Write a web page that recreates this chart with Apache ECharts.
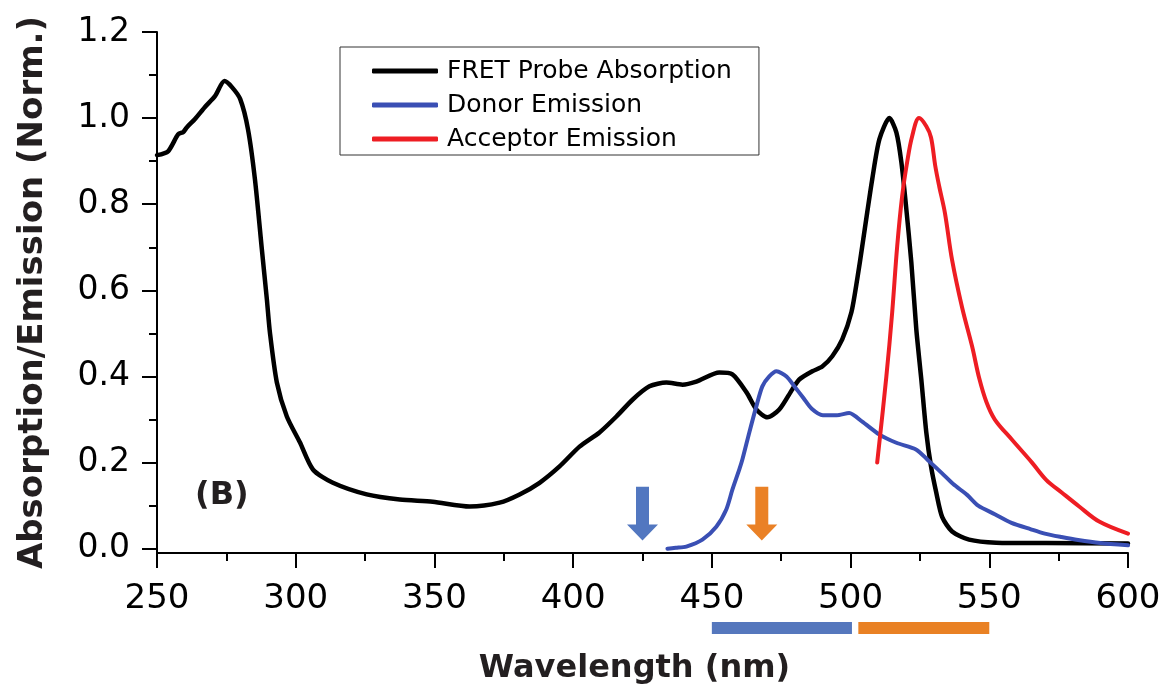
<!DOCTYPE html>
<html>
<head>
<meta charset="utf-8">
<script src="https://cdn.jsdelivr.net/npm/echarts@6.0.0/dist/echarts.min.js"></script>
<style>
  html, body { margin: 0; padding: 0; background: #fff; }
  #chart { width: 1164px; height: 696px; }
</style>
</head>
<body>
<div id="chart"></div>
<script>
// FRET probe absorption spectrum (normalised)
const absWavelength = [250, 254, 257.6, 259.5, 260.8, 263.7, 267.3, 270.9, 274.3, 277, 280, 282.8, 285.3, 287.8, 289.6, 290.7, 293.2, 296.8, 301.5, 306.2, 313.4, 325.6, 337.5, 349.4, 362.7, 373.5, 380.7, 387.9, 395.1, 402.3, 409.5, 415.6, 421.4, 427.5, 433.6, 439.4, 444.4, 452.7, 457.4, 462.5, 466.1, 470, 474.3, 479, 481.5, 486.2, 489.8, 493.4, 497, 500.3, 502.4, 504.2, 506, 507.8, 510.4, 514, 516.5, 518.3, 520, 521.9, 523.7, 525.5, 527.3, 529, 530.9, 533, 536.6, 542.7, 552.5, 570.5, 600];
const absValues = [0.914, 0.923, 0.962, 0.968, 0.979, 0.998, 1.026, 1.051, 1.086, 1.072, 1.044, 0.974, 0.858, 0.695, 0.579, 0.502, 0.386, 0.307, 0.247, 0.184, 0.153, 0.126, 0.114, 0.109, 0.098, 0.107, 0.126, 0.153, 0.191, 0.237, 0.270, 0.307, 0.346, 0.377, 0.386, 0.381, 0.388, 0.409, 0.405, 0.363, 0.323, 0.305, 0.323, 0.370, 0.393, 0.412, 0.423, 0.447, 0.486, 0.549, 0.626, 0.702, 0.781, 0.858, 0.951, 1.0, 0.967, 0.898, 0.795, 0.665, 0.509, 0.393, 0.27, 0.191, 0.13, 0.074, 0.04, 0.021, 0.014, 0.013, 0.012];

// Donor emission
const donorWavelength = [434, 437, 440.8, 446.6, 451.6, 455.2, 457.4, 459.9, 461, 463.5, 466, 468.2, 470.7, 473.3, 476.9, 480, 483, 486, 490, 495, 499.5, 504.2, 510.4, 516.5, 523.7, 528, 533, 537, 542, 546, 552, 558, 565, 570, 576, 582, 590, 600];
const donorValues = [0.0, 0.002, 0.005, 0.021, 0.051, 0.091, 0.137, 0.184, 0.207, 0.27, 0.33, 0.377, 0.4, 0.412, 0.4, 0.375, 0.35, 0.325, 0.31, 0.31, 0.315, 0.295, 0.265, 0.246, 0.23, 0.205, 0.175, 0.15, 0.125, 0.1, 0.08, 0.06, 0.045, 0.035, 0.027, 0.02, 0.013, 0.008];

// Acceptor emission
const acceptorWavelength = [509.6, 512.9, 515, 516.8, 518.6, 520.4, 522.2, 524.7, 527.3, 529, 530.5, 532, 534, 536.6, 540.2, 543.8, 546.4, 549, 552, 558.2, 565.4, 570.5, 576.2, 582.4, 589.6, 600];
const acceptorValues = [0.2, 0.4, 0.549, 0.702, 0.819, 0.898, 0.958, 1.0, 0.981, 0.955, 0.89, 0.84, 0.78, 0.67, 0.56, 0.47, 0.395, 0.34, 0.3, 0.253, 0.2, 0.16, 0.13, 0.098, 0.063, 0.035];

// Excitation wavelengths (arrows) and detection windows (bars under the axis)
const excitationWavelength = [425, 468];
const bandStart = [450, 502.8];
const bandEnd = [500.5, 550];

// Axis ticks
const yMajorTicks = [0, 0.2, 0.4, 0.6, 0.8, 1.0, 1.2];
const yMinorTicks = [0.1, 0.3, 0.5, 0.7, 0.9, 1.1];

const seriesNames = ['FRET Probe Absorption', 'Donor Emission', 'Acceptor Emission'];
const lineColors = ['#000000', '#3a4fb4', '#ee1d23'];
const lineWidths = [4.5, 4, 4];
const smoothness = [0.25, 0.25, 0.35];
const arrowColors = ['#5277c0', '#ea8126'];
const bandColors = ['#5577bd', '#e98124'];

const FONT = 'DejaVu Sans';
const pairs = (xs, ys) => xs.map((x, i) => [x, ys[i]]);

const lineSeries = [
  pairs(absWavelength, absValues),
  pairs(donorWavelength, donorValues),
  pairs(acceptorWavelength, acceptorValues)
].map((data, i) => ({
  name: seriesNames[i],
  type: 'line',
  data: data,
  smooth: smoothness[i],
  showSymbol: false,
  symbol: 'none',
  color: lineColors[i],
  lineStyle: { width: lineWidths[i], color: lineColors[i], cap: 'round', join: 'round' },
  z: 3
}));

// arrow geometry in data units of the y axis
const ARROW_TOP = 0.144, ARROW_NECK = 0.056, ARROW_TIP = 0.019;
const BAND_LEVEL = -0.184;

const arrowSeries = {
  type: 'custom',
  clip: false,
  silent: true,
  z: 4,
  data: excitationWavelength.map((w, i) => ({ value: [w], itemStyle: { color: arrowColors[i] } })),
  renderItem: function (params, api) {
    const w = api.value(0);
    const tip = api.coord([w, ARROW_TIP]);
    const top = api.coord([w, ARROW_TOP]);
    const neck = api.coord([w, ARROW_NECK]);
    const sw = 6.5, hw = 15.5, x = tip[0];
    return {
      type: 'polygon',
      shape: { points: [
        [x - sw, top[1]], [x + sw, top[1]], [x + sw, neck[1]], [x + hw, neck[1]],
        [x, tip[1]], [x - hw, neck[1]], [x - sw, neck[1]]
      ] },
      style: { fill: api.visual('color') }
    };
  }
};

const bandSeries = {
  type: 'custom',
  clip: false,
  silent: true,
  z: 4,
  data: bandStart.map((s, i) => ({ value: [s, bandEnd[i]], itemStyle: { color: bandColors[i] } })),
  renderItem: function (params, api) {
    const a = api.coord([api.value(0), BAND_LEVEL]);
    const b = api.coord([api.value(1), BAND_LEVEL]);
    return {
      type: 'rect',
      shape: { x: a[0], y: a[1] - 6, width: b[0] - a[0], height: 12 },
      style: { fill: api.visual('color') }
    };
  }
};

const chart = echarts.init(document.getElementById('chart'), null, { renderer: 'canvas' });

chart.setOption({
  animation: false,
  backgroundColor: '#ffffff',
  grid: { left: 157, right: 36, top: 32, bottom: 143, containLabel: false },
  legend: {
    data: seriesNames,
    orient: 'vertical',
    left: 340,
    top: 47,
    icon: 'roundRect',
    itemWidth: 66,
    itemHeight: 5,
    itemGap: 4,
    padding: [9, 27, 1, 32],
    borderColor: '#333',
    borderWidth: 1,
    textStyle: { fontFamily: FONT, fontSize: 25, color: '#000', lineHeight: 30, padding: [0, 0, 0, 4] }
  },
  xAxis: {
    type: 'value',
    min: 250,
    max: 600,
    interval: 50,
    name: 'Wavelength (nm)',
    nameLocation: 'middle',
    nameGap: 100,
    nameTextStyle: { fontFamily: FONT, fontSize: 32, fontWeight: 'bold', color: '#231f20', padding: [0, 16, 0, 0] },
    axisLine: { show: true, onZero: false, lineStyle: { color: '#000', width: 2 } },
    axisTick: { show: true, inside: false, length: 15, lineStyle: { color: '#000', width: 2 } },
    minorTick: { show: true, splitNumber: 2, length: 8, lineStyle: { color: '#000', width: 2 } },
    axisLabel: { fontFamily: FONT, fontSize: 34, color: '#000', margin: 29 },
    splitLine: { show: false }
  },
  yAxis: [
    {
      type: 'value',
      min: -0.01,
      max: 1.2,
      name: 'Absorption/Emission (Norm.)',
      nameLocation: 'middle',
      nameGap: 107,
      nameRotate: 90,
      nameTextStyle: { fontFamily: FONT, fontSize: 34, fontWeight: 'bold', color: '#231f20' },
      axisLine: { show: true, lineStyle: { color: '#000', width: 2 } },
      axisTick: { show: true, inside: false, length: 15, customValues: yMajorTicks, lineStyle: { color: '#000', width: 2 } },
      axisLabel: { fontFamily: FONT, fontSize: 33, color: '#000', margin: 27, customValues: yMajorTicks, formatter: v => v.toFixed(1) },
      splitLine: { show: false }
    },
    {
      type: 'value',
      min: -0.01,
      max: 1.2,
      position: 'left',
      axisLine: { show: false },
      axisTick: { show: true, inside: false, length: 8, customValues: yMinorTicks, lineStyle: { color: '#000', width: 2 } },
      axisLabel: { show: false },
      splitLine: { show: false }
    }
  ],
  graphic: [
    {
      type: 'text',
      left: 195,
      top: 480,
      style: { text: '(B)', fontFamily: FONT, fontSize: 32, fontWeight: 'bold', fill: '#231f20' }
    }
  ],
  series: lineSeries.concat([arrowSeries, bandSeries])
});
</script>
</body>
</html>
